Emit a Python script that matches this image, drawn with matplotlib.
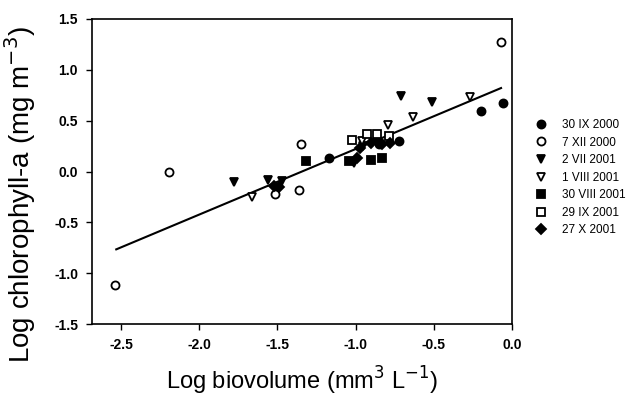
import matplotlib
matplotlib.use("Agg")
import matplotlib.pyplot as plt
import numpy as np

plt.rcParams['font.family'] = ['Liberation Sans', 'DejaVu Sans']

# ---- data ----
series_labels = ["30 IX 2000", "7 XII 2000", "2 VII 2001", "1 VIII 2001",
                 "30 VIII 2001", "29 IX 2001", "27 X 2001"]

s1_x = [-1.17, -0.85, -0.72, -0.20, -0.06]
s1_y = [0.13, 0.27, 0.30, 0.60, 0.67]

s2_x = [-2.54, -2.19, -1.515, -1.36, -1.35, -0.07]
s2_y = [-1.12, 0.00, -0.22, -0.18, 0.27, 1.27]

s3_x = [-1.78, -1.56, -1.47, -1.01, -0.95, -0.86, -0.71, -0.51]
s3_y = [-0.10, -0.08, -0.09, 0.08, 0.25, 0.29, 0.74, 0.68]

s4_x = [-1.66, -0.96, -0.79, -0.635, -0.27]
s4_y = [-0.25, 0.30, 0.46, 0.54, 0.73]

s5_x = [-1.32, -1.04, -0.90, -0.83]
s5_y = [0.10, 0.10, 0.11, 0.13]

s6_x = [-1.025, -0.93, -0.865, -0.785]
s6_y = [0.31, 0.37, 0.37, 0.35]

s7_x = [-1.52, -1.49, -0.99, -0.97, -0.90, -0.83, -0.78]
s7_y = [-0.14, -0.15, 0.13, 0.23, 0.28, 0.27, 0.28]

fit_slope = 0.645
fit_intercept = 0.866
fit_x_range = [-2.53, -0.07]

x_ticks = [-2.5, -2.0, -1.5, -1.0, -0.5, 0.0]
y_ticks = [-1.5, -1.0, -0.5, 0.0, 0.5, 1.0, 1.5]

# ---- figure ----
W, H = 637, 398
fig = plt.figure(figsize=(W / 100, H / 100), dpi=100)
ax = fig.add_axes([92 / W, 1 - 324 / H, (512 - 92) / W, (324 - 19) / H])

styles = [
    dict(marker='o', facecolor='black', edgecolor='black', size=5.8),
    dict(marker='o', facecolor='white', edgecolor='black', size=5.8),
    dict(marker='v', facecolor='black', edgecolor='black', size=6.2),
    dict(marker='v', facecolor='white', edgecolor='black', size=6.2),
    dict(marker='s', facecolor='black', edgecolor='black', size=5.3),
    dict(marker='s', facecolor='white', edgecolor='black', size=5.3),
    dict(marker='D', facecolor='black', edgecolor='black', size=5.5),
]
xs = [s1_x, s2_x, s3_x, s4_x, s5_x, s6_x, s7_x]
ys = [s1_y, s2_y, s3_y, s4_y, s5_y, s6_y, s7_y]

lx = np.array(fit_x_range)
ax.plot(lx, fit_slope * lx + fit_intercept, color='black', lw=1.5, zorder=2)

handles = []
for x, y, st, lab in zip(xs, ys, styles, series_labels):
    h, = ax.plot(x, y, linestyle='none', marker=st['marker'],
                 markerfacecolor=st['facecolor'], markeredgecolor=st['edgecolor'],
                 markersize=st['size'], markeredgewidth=1.3, label=lab, zorder=3)
    handles.append(h)

ax.set_xlim(-2.685, 0.0)
ax.set_ylim(-1.5, 1.5)
ax.set_xticks(x_ticks)
ax.set_yticks(y_ticks)
ax.set_xticklabels([f"{v:.1f}" for v in x_ticks])
ax.set_yticklabels([f"{v:.1f}" for v in y_ticks])
ax.tick_params(direction='out', length=4, width=1, labelsize=10, pad=6)
for lab in ax.get_xticklabels() + ax.get_yticklabels():
    lab.set_fontweight('bold')
for sp in ax.spines.values():
    sp.set_linewidth(1.2)

ax.set_xlabel(r"Log biovolume (mm$^{3}$ L$^{-1}$)", fontsize=17, labelpad=9)
ax.set_ylabel(r"Log chlorophyll-a (mg m$^{-3}$)", fontsize=20)
ax.yaxis.set_label_coords(-0.128, 0.426)

fs = 8.5
leg = fig.legend(handles=handles, labels=series_labels, loc='upper left',
                 bbox_to_anchor=(535 / W, 1 - 119 / H), frameon=False,
                 fontsize=fs, handlelength=1.0, handletextpad=1.3,
                 labelspacing=0.47, borderpad=0, borderaxespad=0)

fig.savefig("out.png", dpi=100)
